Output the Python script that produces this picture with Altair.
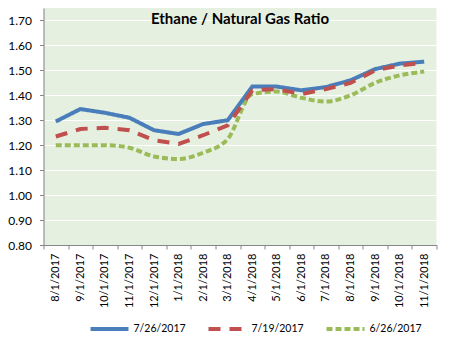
import altair as alt
import pandas as pd

months = ["8/1/2017", "9/1/2017", "10/1/2017", "11/1/2017", "12/1/2017", "1/1/2018",
          "2/1/2018", "3/1/2018", "4/1/2018", "5/1/2018", "6/1/2018", "7/1/2018",
          "8/1/2018", "9/1/2018", "10/1/2018", "11/1/2018"]
series_names = ["7/26/2017", "7/19/2017", "6/26/2017"]
s_0726 = [1.295, 1.345, 1.33, 1.31, 1.26, 1.245, 1.285, 1.30, 1.435, 1.435, 1.42, 1.433, 1.46, 1.505, 1.527, 1.535]
s_0719 = [1.235, 1.265, 1.27, 1.26, 1.22, 1.205, 1.24, 1.28, 1.42, 1.425, 1.405, 1.425, 1.45, 1.50, 1.52, 1.53]
s_0626 = [1.20, 1.20, 1.20, 1.19, 1.155, 1.145, 1.17, 1.225, 1.405, 1.415, 1.39, 1.375, 1.40, 1.45, 1.48, 1.495]
y_ticks = [0.8, 0.9, 1.0, 1.1, 1.2, 1.3, 1.4, 1.5, 1.6, 1.7]

colors = ["#4A7EBB", "#C0504D", "#9BBB59"]
dashes = [[1, 0], [12, 9], [6, 3]]
widths = [4, 4, 2.2]

rows = []
for name, vals in zip(series_names, [s_0726, s_0719, s_0626]):
    for m, v in zip(months, vals):
        rows.append({"month": m, "value": v, "series": name})
df = pd.DataFrame(rows)

FONT = "Lato"

x_enc = alt.X("month:N", sort=months, title=None,
              scale=alt.Scale(type="band", paddingInner=0, paddingOuter=0),
              axis=alt.Axis(labelAngle=270, labelAlign="right", labelBaseline="middle",
                            tickBand="extent", domainColor="#868686", tickColor="#868686",
                            tickSize=4, labelPadding=4, labelFontSize=11, labelFont=FONT,
                            labelColor="#000000", grid=False))
y_enc = alt.Y("value:Q", title=None,
              scale=alt.Scale(domain=[0.8, 1.75], nice=False, zero=False),
              axis=alt.Axis(values=y_ticks, format=".2f", domainColor="#868686",
                            tickColor="#868686", tickSize=4, labelPadding=8,
                            labelFontSize=12, labelFont=FONT, labelColor="#000000",
                            grid=True, gridColor="#FFFFFF", gridWidth=1))
legend = alt.Legend(title=None, orient="none", legendX=45, legendY=300,
                    direction="horizontal", columns=3,
                    symbolType="stroke", symbolSize=1444,
                    labelFont=FONT, labelFontSize=10.5, labelColor="#000000",
                    labelOffset=3, columnPadding=14, padding=0)
color_enc = alt.Color("series:N", sort=series_names,
                      scale=alt.Scale(domain=series_names, range=colors), legend=legend)
dash_enc = alt.StrokeDash("series:N", sort=series_names,
                          scale=alt.Scale(domain=series_names, range=dashes), legend=legend)
width_enc = alt.StrokeWidth("series:N", sort=series_names,
                            scale=alt.Scale(domain=series_names, range=widths), legend=legend)

def layer(name, interp):
    return alt.Chart(df).transform_filter(alt.datum.series == name).mark_line(
        interpolate=interp, strokeCap="butt").encode(
        x=x_enc, y=y_enc, color=color_enc, strokeDash=dash_enc, strokeWidth=width_enc)

chart = alt.layer(
    layer("6/26/2017", "monotone"),
    layer("7/26/2017", "linear"),
    layer("7/19/2017", "linear"),
).properties(
    width=393, height=237,
    title=alt.TitleParams("Ethane / Natural Gas Ratio", font=FONT, fontSize=15,
                          fontWeight="bold", color="#000000", offset=-19, anchor="middle"),
    autosize=alt.AutoSizeParams(type="none"),
    padding={"left": 43.5, "top": 8, "right": 16.5, "bottom": 93},
    background="#FFFFFF",
).configure_view(fill="#E5F0E1", stroke=None)

chart.save("out.html", embed_options={"renderer": "svg", "actions": False})
